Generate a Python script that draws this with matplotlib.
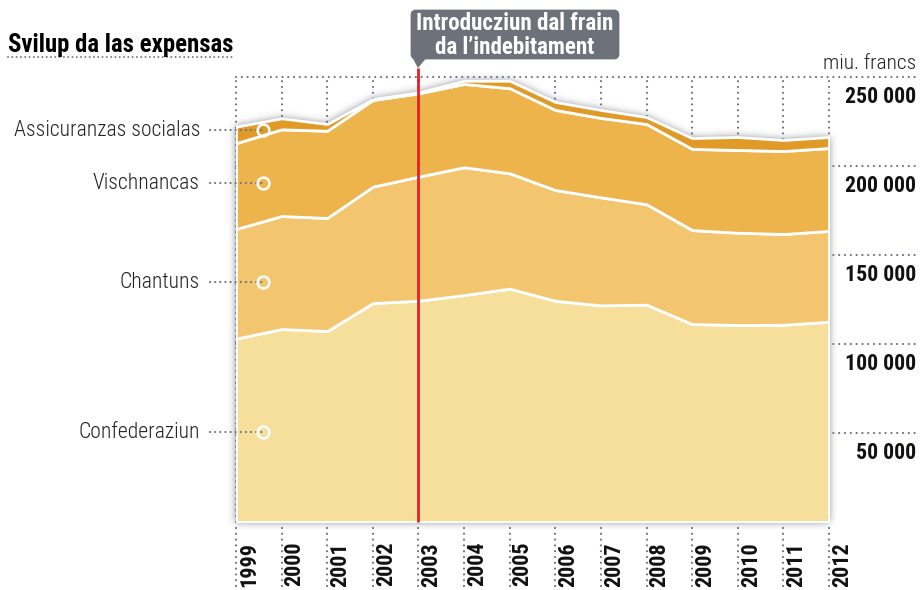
import numpy as np
import matplotlib
matplotlib.use("Agg")
import matplotlib.pyplot as plt
import matplotlib.font_manager as fm
from matplotlib.path import Path
from matplotlib.patches import FancyBboxPatch, Polygon
import matplotlib.transforms as mtransforms

# ---------------- data (millions of francs) ----------------
years = [1999, 2000, 2001, 2002, 2003, 2004, 2005, 2006, 2007, 2008, 2009, 2010, 2011, 2012]
confederaziun = [103000, 108400, 107300, 123000, 124300, 127500, 131100, 124300, 121700, 122100, 111200, 110700, 110800, 112500]
chantuns = [61600, 63500, 63500, 65400, 69700, 71800, 64800, 62200, 60700, 56400, 52800, 51800, 51000, 51000]
vischnancas = [48200, 48700, 49000, 48700, 46800, 46800, 47800, 45000, 44600, 45100, 45600, 46500, 46600, 46600]
assicuranzas = [9300, 6200, 3800, 500, 600, 1800, 4200, 4500, 4500, 3900, 6100, 7300, 6200, 6200]
series_names = ["Confederaziun", "Chantuns", "Vischnancas", "Assicuranzas socialas"]
y_ticks = [50000, 100000, 150000, 200000, 250000]
y_tick_labels = ["50 000", "100 000", "150 000", "200 000", "250 000"]
event_year = 2003
title = "Svilup da las expensas"
unit = "miu. francs"
event_lines = ["Introducziun dal frain", "da l\u2019indebitament"]

colors = ["#f6df9b", "#f3c56f", "#edb44c", "#e09a28"]
GRAY = "#6d7480"

# ---------------- font choice (prefer a condensed face) ----------------
avail = {}
for f in fm.fontManager.ttflist:
    avail.setdefault(f.name, set()).add(str(f.stretch))
FAM, STRETCH = None, "normal"
for cand in ["Liberation Sans Narrow", "Roboto Condensed", "Arial Narrow", "Nimbus Sans Narrow",
             "Open Sans Condensed", "DejaVu Sans Condensed", "Noto Sans Condensed"]:
    if cand in avail:
        FAM = cand
        break
if FAM is None:
    for nm in ["Roboto", "Noto Sans", "Open Sans", "DejaVu Sans"]:
        if nm in avail and any(s in ("condensed", "semi-condensed", "extra-condensed", "75", "87.5")
                               for s in avail[nm]):
            FAM, STRETCH = nm, "condensed"
            break
if FAM is None:
    FAM = "Roboto" if "Roboto" in avail else "Liberation Sans"
FN = [FAM, "DejaVu Sans"]

W, H = 922, 590
fig = plt.figure(figsize=(W / 100, H / 100), dpi=100)
fig.patch.set_facecolor("white")
renderer = fig.canvas.get_renderer()


def fit(s, target, weight="normal", base=14.0):
    t = fig.text(0, 0, s, fontsize=base, fontweight=weight, family=FN, fontstretch=STRETCH)
    w = t.get_window_extent(renderer).width
    t.remove()
    return base * target / w


FS_TITLE = fit(title, 227, "heavy")
FS_TICK = fit("200 000", 71, "bold")
FS_UNIT = fit(unit, 94, "light")
FS_YEAR = fit("1999", 45, "bold")
FS_SER = fit("Assicuranzas socialas", 187, "light")
FS_EVT = fit(event_lines[0], 198, "bold")

x0, x1, y0, y1 = 236, 829, 522, 77
ax = fig.add_axes([x0 / W, (H - y0) / H, (x1 - x0) / W, (y0 - y1) / H])
ax.set_zorder(2)
ax.patch.set_visible(False)
ax.set_xlim(years[0], years[-1])
ax.set_ylim(0, 250000)
ax.axis("off")

stack = [np.array(confederaziun), np.array(chantuns), np.array(vischnancas), np.array(assicuranzas)]
cum = np.cumsum(stack, axis=0)
total = cum[-1]

# ---------------- drop shadow ----------------
fig.canvas.draw()
poly = [(years[0], 0)] + list(zip(years, total)) + [(years[-1], 0)]
pix = ax.transData.transform(poly)
path = Path(pix)
gx, gy = np.meshgrid(np.arange(W) + 0.5, np.arange(H) + 0.5)
mask = path.contains_points(np.column_stack([gx.ravel(), gy.ravel()])).reshape(H, W).astype(float)
sig = 4.0
r = 12
k = np.exp(-0.5 * (np.arange(-r, r + 1) / sig) ** 2)
k /= k.sum()


def blur1d(a, axis):
    out = np.zeros_like(a)
    pad = [(0, 0), (0, 0)]
    pad[axis] = (r, r)
    ap = np.pad(a, pad, mode="constant")
    n = a.shape[axis]
    for i, w in enumerate(k):
        if axis == 0:
            out += w * ap[i:i + n, :]
        else:
            out += w * ap[:, i:i + n]
    return out


bl = blur1d(blur1d(mask, 0), 1)
sh = np.zeros((H, W, 4))
sh[..., 0] = 0.42
sh[..., 1] = 0.44
sh[..., 2] = 0.47
sh[..., 3] = np.clip(bl * 0.9, 0, 1)
fig.figimage(sh, xo=0, yo=0, origin="lower", zorder=1)

# ---------------- gridlines ----------------
dot = dict(color=GRAY, lw=1.6, linestyle=(0, (0.01, 2.6)), dash_capstyle="round")
xr_end = (916 - x0) / (x1 - x0)
ytr = ax.get_yaxis_transform()
xtr = ax.get_xaxis_transform()
for v in y_ticks:
    ax.plot([0, xr_end], [v, v], transform=ytr, clip_on=False, zorder=0, **dot)
for yr in years:
    ax.plot([yr, yr], [0, 250000], clip_on=False, zorder=0, **dot)
    ax.plot([yr, yr], [-(528 - y0) / (y0 - y1), -(590 - y0) / (y0 - y1)], transform=xtr,
            clip_on=False, zorder=0, **dot)

# ---------------- stacked areas ----------------
ax.stackplot(years, *stack, colors=colors, edgecolor="white", linewidth=2, zorder=2)

# ---------------- event line ----------------
ax.plot([event_year, event_year], [0, 1 + (y1 - 68) / (y0 - y1)], transform=xtr,
        color="#e4202a", lw=2, clip_on=False, zorder=5, solid_capstyle="butt")

# ---------------- y labels ----------------
lab_off = mtransforms.offset_copy(ytr, fig=fig, x=0, y=-9, units="dots")
for v, t in zip(y_ticks, y_tick_labels):
    ax.text(xr_end, v, t, transform=lab_off, ha="right", va="top", fontsize=FS_TICK,
            fontweight="bold", family=FN, fontstretch=STRETCH, color="#111111", clip_on=False)
ax.text(xr_end, 250000, unit, transform=mtransforms.offset_copy(ytr, fig=fig, x=0, y=4, units="dots"),
        ha="right", va="bottom", fontsize=FS_UNIT, fontweight="light", family=FN,
        fontstretch=STRETCH, color="#222222")

# ---------------- x labels ----------------
xl_tr = mtransforms.offset_copy(xtr, fig=fig, x=2, y=0, units="dots")
for yr in years:
    ax.text(yr, -(542 - y0) / (y0 - y1), str(yr), transform=xl_tr, rotation=90,
            ha="left", va="top", fontsize=FS_YEAR, fontweight="bold", family=FN,
            fontstretch=STRETCH, color="#111111")

# ---------------- series labels with markers ----------------
cx = years[0] + (263 - x0) / ((x1 - x0) / (years[-1] - years[0]))
lower = np.vstack([np.zeros(len(years)), cum[:-1]])
label_shift = [-5, -5, -5, -2]  # pixel nudge of each marker below the layer middle
for i, name in enumerate(series_names):
    mid = 0.5 * (np.interp(cx, years, lower[i]) + np.interp(cx, years, cum[i]))
    tr = mtransforms.offset_copy(ytr, fig=fig, x=0, y=label_shift[i], units="dots")
    trd = mtransforms.offset_copy(ax.transData, fig=fig, x=0, y=label_shift[i], units="dots")
    ax.plot([(210 - x0) / (x1 - x0), (cx - years[0]) / (years[-1] - years[0])], [mid, mid],
            transform=tr, clip_on=False, zorder=6, color=GRAY, lw=1.6,
            linestyle=(0, (0.01, 2.3)), dash_capstyle="round")
    ax.plot([cx], [mid], "o", ms=8.5, mfc="none", mec="white", mew=1.8, zorder=7,
            clip_on=False, transform=trd)
    ax.text((200 - x0) / (x1 - x0), mid, name, transform=tr, ha="right", va="center",
            fontsize=FS_SER, fontweight="light", family=FN, fontstretch=STRETCH,
            color="#222222", clip_on=False)

# ---------------- overlay for title and annotation ----------------
ov = fig.add_axes([0, 0, 1, 1])
ov.set_zorder(3)
ov.patch.set_visible(False)
ov.set_xlim(0, W)
ov.set_ylim(H, 0)
ov.axis("off")

ov.text(8, 45, title, ha="left", va="center", fontsize=FS_TITLE, fontweight="heavy",
        family=FN, fontstretch=STRETCH, color="#000000")
ov.plot([8, 235], [57, 57], color=GRAY, lw=1.4, linestyle=(0, (0.01, 2.2)), dash_capstyle="round")

box = FancyBboxPatch((412, 11), 206, 47, boxstyle="round,pad=0,rounding_size=4",
                     fc="#6c717a", ec="#6c717a", lw=2)
ov.add_patch(box)
ov.add_patch(Polygon([[411.5, 56], [428, 56], [418, 68]], closed=True, fc="#6c717a", ec="none"))
ov.text(515, 23, event_lines[0], ha="center", va="center", fontsize=FS_EVT, fontweight="bold",
        family=FN, fontstretch=STRETCH, color="white")
ov.text(515, 47, event_lines[1], ha="center", va="center", fontsize=FS_EVT, fontweight="bold",
        family=FN, fontstretch=STRETCH, color="white")

fig.savefig("out.png", dpi=100)
